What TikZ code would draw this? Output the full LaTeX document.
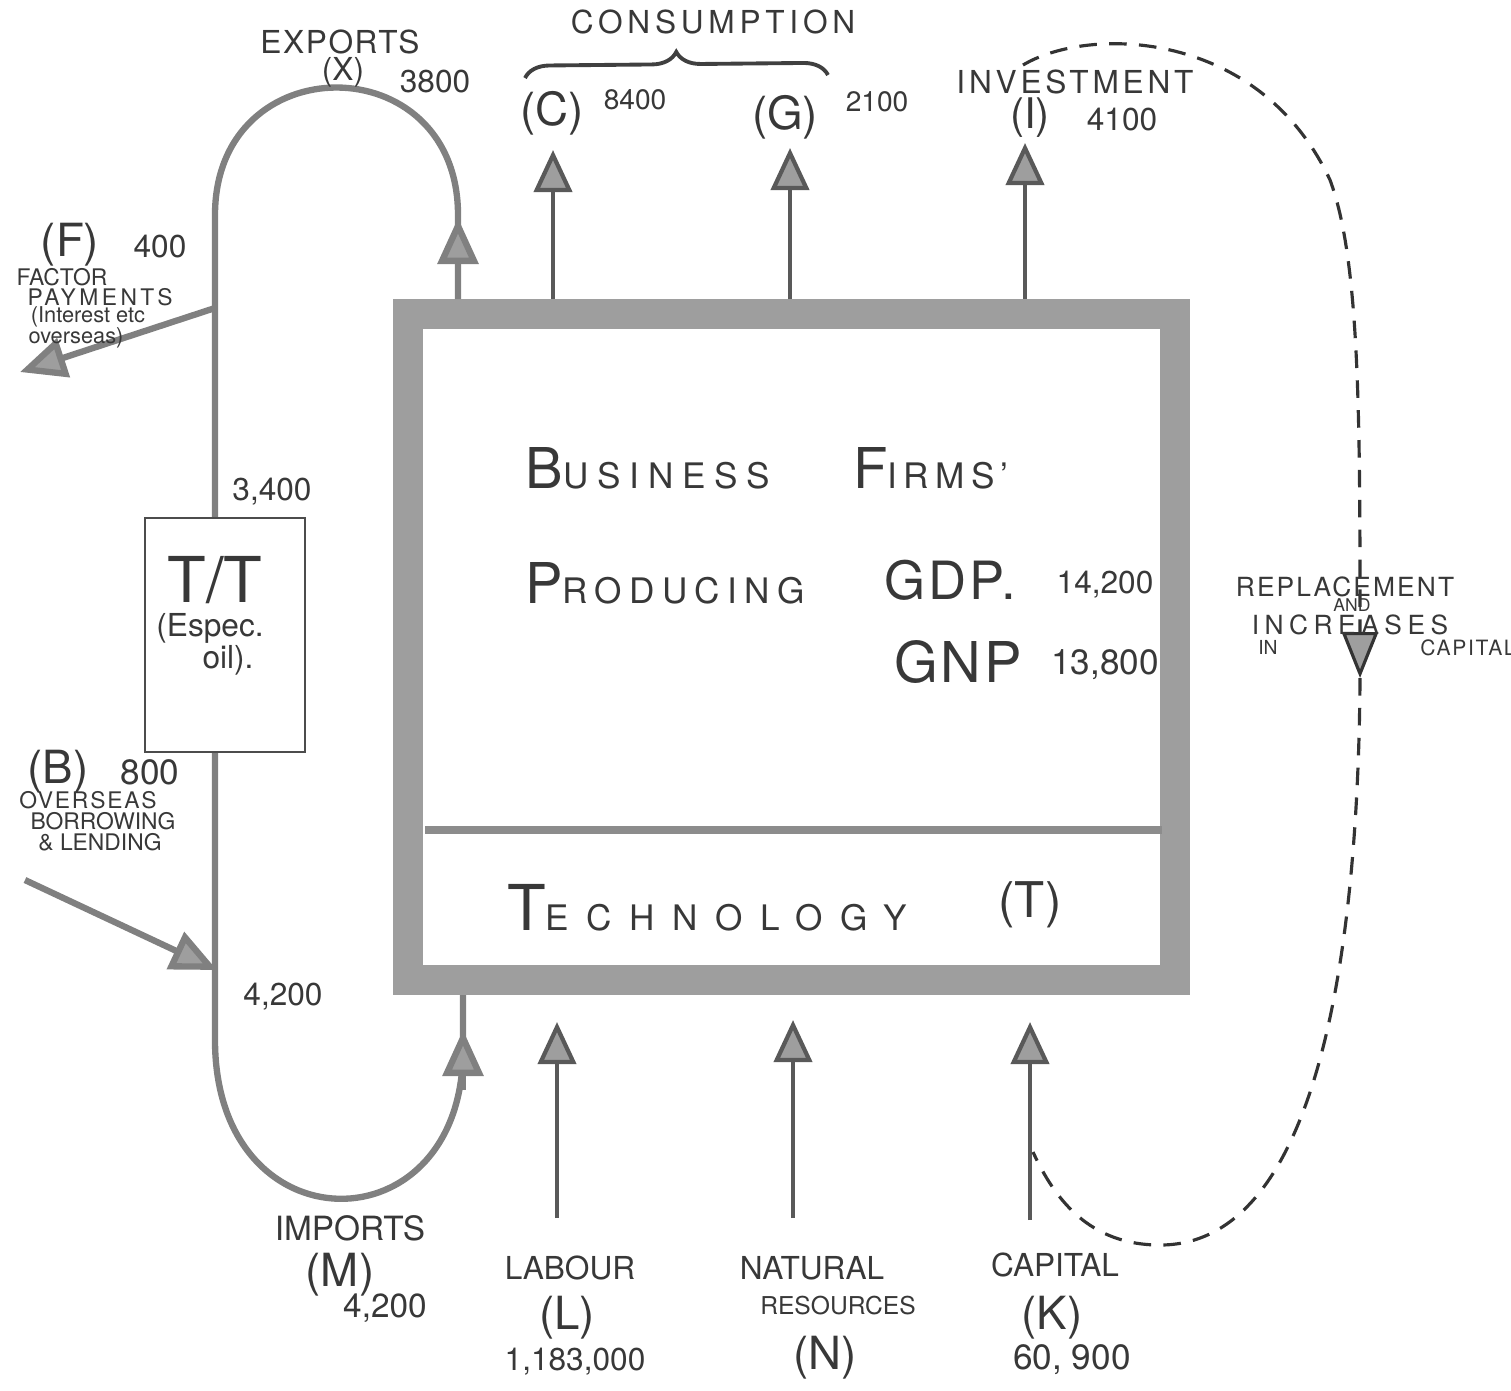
\documentclass[tikz,border=0pt]{standalone}
\usepackage{fontspec}
\setmainfont{TeX Gyre Heros}
\usetikzlibrary{arrows.meta,positioning,decorations.pathreplacing}

\newcommand{\fs}[1]{\fontsize{#1}{#1}\selectfont}
\newcommand{\ls}[1]{\addfontfeature{LetterSpace=#1}}
% big first letter, spaced capitals after it
\newcommand{\initcap}[5][20]{{\fs{#2}#3}{\ls{#1}\fs{#4}#5}}

\tikzset{
  lbl/.style={inner sep=0pt, text=black!78},
  shaft/.style={draw=black!65, line width=1.2pt},
  flowarrow/.style={shaft, -{Triangle[length=4.2mm,width=3.8mm,fill=black!38]}},
  loopline/.style={draw=black!50, line width=1.8pt},
  looparrow/.style={loopline, -{Triangle[length=4.6mm,width=4.0mm,fill=black!38]}},
  dashline/.style={draw=black!80, line width=0.9pt, dash pattern=on 5pt off 3.5pt},
}

\begin{document}
\begin{tikzpicture}
\useasboundingbox (0,0) rectangle (15.11,-13.90);

% the firms
\node[draw=black!38, line width=3mm, minimum width=7.67cm, minimum height=6.66cm, inner sep=0pt] (firms) at (7.915,-6.47) {};
\draw[black!45, line width=2.4pt] (4.25,-8.30) -- (11.62,-8.30);

\node[lbl] (busi) at (6.48,-4.68) {\initcap[25]{16}{B}{10}{USINESS}};
\node[lbl] (firmw) at (9.31,-4.68) {\initcap[18]{16}{F}{10}{IRMS'}};
\node[lbl] (prod) at (6.65,-5.83) {\initcap[21]{16}{P}{10}{RODUCING}};
\node[lbl, font=\fs{15}\ls{6}] (gdp) at (9.50,-5.80) {GDP.};
\node[lbl, font=\fs{9}] (gdpv) at (11.05,-5.85) {14,200};
\node[lbl, font=\fs{16}\ls{5}] (gnp) at (9.58,-6.62) {GNP};
\node[lbl, font=\fs{10}] (gnpv) at (11.05,-6.65) {13,800};
\node[lbl] (tech) at (7.07,-9.08) {\initcap[50]{18}{T}{10}{ECHNOLOGY}};
\node[lbl, font=\fs{14}] (techt) at (10.30,-9.05) {(T)};

% spending out of the firms
\coordinate (cTip) at (5.53,-1.50);
\coordinate (gTip) at (7.90,-1.48);
\coordinate (iTip) at (10.25,-1.43);
\draw[flowarrow] (firms.north -| cTip) -- (cTip);
\draw[flowarrow] (firms.north -| gTip) -- (gTip);
\draw[flowarrow] (firms.north -| iTip) -- (iTip);

\node[lbl, font=\fs{9}\ls{15}] (cons) at (7.13,-0.22) {CONSUMPTION};
\coordinate (consL) at (5.25,-0.78);
\coordinate (consR) at (8.28,-0.75);
\draw[decorate, decoration={brace, amplitude=7pt}, line width=1.1pt, black!75] (consL) -- (consR);
\node[lbl, font=\fs{13}] (consC) at (5.52,-1.13) {(C)};
\node[lbl, font=\fs{8}] (consCv) at (6.35,-1.00) {8400};
\node[lbl, font=\fs{13}] (consG) at (7.85,-1.17) {(G)};
\node[lbl, font=\fs{8}] (consGv) at (8.77,-1.02) {2100};
\node[lbl, font=\fs{9}\ls{12}] (inv) at (10.75,-0.82) {INVESTMENT};
\node[lbl, font=\fs{12}] (invI) at (10.30,-1.18) {(I)};
\node[lbl, font=\fs{9}] (invv) at (11.22,-1.20) {4100};

% exports and imports loop
\coordinate (xTip) at (4.58,-2.18);
\coordinate (mTip) at (4.63,-10.30);
\coordinate (mBase) at (4.63,-10.90);
\draw[loopline] (firms.north -| xTip) -- (4.58,-2.15)
  .. controls (4.58,-0.45) and (2.15,-0.45) .. (2.15,-2.15)
  -- (2.15,-10.40)
  .. controls (2.15,-12.50) and (4.63,-12.50) .. (4.63,-10.50)
  -- (firms.south -| mTip);
\draw[looparrow] (firms.north -| xTip) -- (xTip);
\draw[looparrow] (mBase) -- (mTip);

\node[lbl, font=\fs{9}\ls{5}] (exp) at (3.40,-0.42) {EXPORTS};
\node[lbl, font=\fs{9}] (expx) at (3.43,-0.72) {(X)};
\node[lbl, font=\fs{9}] (expv) at (4.35,-0.82) {3800};
\node[lbl, font=\fs{9}] (expnet) at (2.72,-4.92) {3,400};
\node[lbl, font=\fs{9}] (impin) at (2.83,-9.97) {4,200};

\node[lbl, font=\fs{9.5}] (imp) at (3.50,-12.28) {IMPORTS};
\node[lbl, font=\fs{13}] (impM) at (3.40,-12.75) {(M)};
\node[lbl, font=\fs{9.5}] (impv) at (3.85,-13.08) {4,200};

% terms of trade
\node[draw=black!70, line width=0.7pt, fill=white, minimum width=1.6cm, minimum height=2.34cm, inner sep=0pt] (tt) at (2.25,-6.35) {};
\node[lbl, font=\fs{18}] (ttl) at (2.15,-5.80) {T/T};
\node[lbl, font=\fs{9}] (tte) at (2.10,-6.28) {(Espec.};
\node[lbl, font=\fs{9}] (tto) at (2.28,-6.60) {oil).};

% factor payments
\coordinate (fOut) at (2.15,-3.08);
\coordinate (fTip) at (0.20,-3.72);
\draw[looparrow] (fOut) -- (fTip);
\node[lbl, font=\fs{13}] (facF) at (0.70,-2.45) {(F)};
\node[lbl, font=\fs{9}] (facv) at (1.60,-2.47) {400};
\node[lbl, font=\fs{6.5}] (fac1) at (0.62,-2.77) {FACTOR};
\node[lbl, font=\fs{6.5}\ls{15}] (fac2) at (1.00,-2.97) {PAYMENTS};
\node[lbl, font=\fs{6.2}] (fac3) at (0.88,-3.17) {(Interest etc};
\node[lbl, font=\fs{6.2}] (fac4) at (0.76,-3.38) {overseas)};

% borrowing and lending
\coordinate (bTail) at (0.25,-8.80);
\coordinate (bTip) at (2.17,-9.70);
\draw[looparrow] (bTail) -- (bTip);
\node[lbl, font=\fs{13}] (borB) at (0.58,-7.72) {(B)};
\node[lbl, font=\fs{10}] (borv) at (1.50,-7.72) {800};
\node[lbl, font=\fs{6.5}\ls{8}] (bor1) at (0.88,-8.00) {OVERSEAS};
\node[lbl, font=\fs{6.5}] (bor2) at (1.03,-8.21) {BORROWING};
\node[lbl, font=\fs{6.5}] (bor3) at (1.00,-8.42) {\& LENDING};

% factors of production
\coordinate (lTail) at (5.57,-12.18);
\coordinate (lTip) at (5.57,-10.22);
\coordinate (nTail) at (7.93,-12.18);
\coordinate (nTip) at (7.93,-10.20);
\coordinate (kTail) at (10.30,-12.20);
\coordinate (kTip) at (10.30,-10.22);
\draw[flowarrow] (lTail) -- (lTip);
\draw[flowarrow] (nTail) -- (nTip);
\draw[flowarrow] (kTail) -- (kTip);

\node[lbl, font=\fs{9}] (lab) at (5.70,-12.68) {LABOUR};
\node[lbl, font=\fs{13}] (labL) at (5.67,-13.18) {(L)};
\node[lbl, font=\fs{9}] (labv) at (5.75,-13.62) {1,183,000};
\node[lbl, font=\fs{9}] (nat) at (8.12,-12.68) {NATURAL};
\node[lbl, font=\fs{7}] (nat2) at (8.38,-13.05) {RESOURCES};
\node[lbl, font=\fs{13}] (natN) at (8.25,-13.58) {(N)};
\node[lbl, font=\fs{9}] (cap) at (10.55,-12.65) {CAPITAL};
\node[lbl, font=\fs{13}] (capK) at (10.52,-13.18) {(K)};
\node[lbl, font=\fs{10}] (capv) at (10.72,-13.60) {60, 900};

% investment back into capital
\coordinate (dStart) at (10.23,-0.65);
\coordinate (dArr) at (13.60,-6.78);
\coordinate (dEnd) at (10.33,-11.52);
\draw[dashline, -{Triangle[length=4.6mm,width=3.6mm,fill=black!38]}] (dStart)
  .. controls (10.90,-0.25) and (12.60,-0.30) .. (13.30,-1.80)
  .. controls (13.60,-2.60) and (13.60,-4.20) .. (dArr);
\draw[dashline] (dArr)
  .. controls (13.58,-9.80) and (13.10,-12.45) .. (11.60,-12.45)
  .. controls (10.90,-12.45) and (10.55,-12.00) .. (dEnd);

\node[lbl, font=\fs{7.5}\ls{8}] (rep) at (13.45,-5.87) {REPLACEMENT};
\node[lbl, font=\fs{5}] (repand) at (13.52,-6.05) {AND};
\node[lbl, font=\fs{7.5}\ls{21}] (repinc) at (13.50,-6.25) {INCREASES};
\node[lbl, font=\fs{5.5}] (repin) at (12.68,-6.47) {IN};
\node[lbl, font=\fs{6}\ls{8}] (repcap) at (14.68,-6.48) {CAPITAL};
\end{tikzpicture}
\end{document}
